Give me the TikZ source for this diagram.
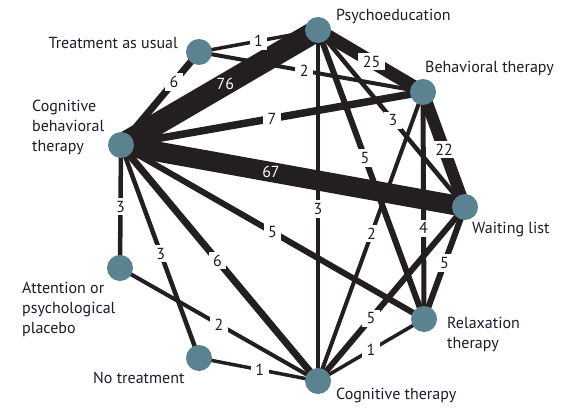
\documentclass[tikz,border=0pt]{standalone}
\usepackage{fontspec}
\setmainfont{PT Sans}
\usetikzlibrary{calc}
\definecolor{dotfill}{HTML}{5A8290}
\definecolor{edgecol}{HTML}{231F20}
\definecolor{txtcol}{HTML}{1A1E2C}
\pgfdeclarelayer{bg}
\pgfsetlayers{bg,main}
\begin{document}
\begin{tikzpicture}[x=1pt,y=-1pt,
  dot/.style={circle,fill=dotfill,minimum size=26pt,inner sep=0pt},
  edge/.style={draw=edgecol,line cap=butt},
  lbl/.style={fill=white,text=txtcol,inner xsep=4.5pt,inner ysep=3pt,font=\fontsize{16}{18}\selectfont},
  lblw/.style={text=white,inner sep=1pt,font=\fontsize{16}{18}\selectfont},
  txt/.style={text=txtcol,align=left,inner sep=0pt,font=\fontsize{16}{20}\selectfont}
]
\useasboundingbox (0,0) rectangle (588,417);
% nodes
\node[dot] (P) at (318,30) {};
\node[dot] (T) at (199,52) {};
\node[dot] (B) at (423,92) {};
\node[dot] (C) at (121,145) {};
\node[dot] (W) at (465,207) {};
\node[dot] (A) at (120,268) {};
\node[dot] (R) at (424,319) {};
\node[dot] (N) at (199,358) {};
\node[dot] (G) at (318,381) {};
% texts
\node[txt,anchor=west] (tP) at (336,16) {Psychoeducation};
\node[txt,anchor=east] (tT) at (178,43) {Treatment as usual};
\node[txt,anchor=west] (tB) at (425,68) {Behavioral therapy};
\node[txt,anchor=west] (tC) at (32,127) {Cognitive\\behavioral\\therapy};
\node[txt,anchor=west] (tW) at (472,230) {Waiting list};
\node[txt,anchor=west] (tA) at (22,309) {Attention or\\psychological\\placebo};
\node[txt,anchor=west] (tN) at (93,378) {No treatment};
\node[txt,anchor=west] (tR) at (447,334) {Relaxation\\therapy};
\node[txt,anchor=west] (tG) at (336,395) {Cognitive therapy};
% edges
\begin{pgfonlayer}{bg}
\fill[white] (0,0) rectangle (588,417);
\draw[edge,line width=3.5pt] (T.center) -- (P.center);
\draw[edge,line width=4pt] (T.center) -- (B.center);
\draw[edge,line width=7pt] (T.center) -- (C.center);
\draw[edge,line width=22pt] (C.center) -- (P.center);
\draw[edge,line width=7.5pt] (C.center) -- (B.center);
\draw[edge,line width=20pt] (C.center) -- (W.center);
\draw[edge,line width=6pt] (C.center) -- (R.center);
\draw[edge,line width=7pt] (C.center) -- (G.center);
\draw[edge,line width=4.5pt] (C.center) -- (N.center);
\draw[edge,line width=4.5pt] (C.center) -- (A.center);
\draw[edge,line width=4pt] (A.center) -- (G.center);
\draw[edge,line width=3.5pt] (N.center) -- (G.center);
\draw[edge,line width=13pt] (P.center) -- (B.center);
\draw[edge,line width=4.5pt] (P.center) -- (G.center);
\draw[edge,line width=4.5pt] (P.center) -- (W.center);
\draw[edge,line width=6pt] (P.center) -- (R.center);
\draw[edge,line width=12pt] (B.center) -- (W.center);
\draw[edge,line width=5pt] (B.center) -- (R.center);
\draw[edge,line width=4pt] (B.center) -- (G.center);
\draw[edge,line width=6pt] (W.center) -- (R.center);
\draw[edge,line width=6pt] (W.center) -- (G.center);
\draw[edge,line width=3.5pt] (R.center) -- (G.center);
\end{pgfonlayer}
% labels
\path (T.center) -- node[lbl,pos=0.5] (l1) {1} (P.center);
\path (T.center) -- node[lbl,pos=0.47] (l2) {2} (B.center);
\path (T.center) -- node[lbl,pos=0.32] (l3) {6} (C.center);
\path (C.center) -- node[lblw,pos=0.53] (l4) {76} (P.center);
\path (C.center) -- node[lbl,pos=0.5] (l5) {7} (B.center);
\path (C.center) -- node[lblw,pos=0.436] (l6) {67} (W.center);
\path (C.center) -- node[lbl,pos=0.5] (l7) {5} (R.center);
\path (C.center) -- node[lbl,pos=0.49] (l8) {6} (G.center);
\path (C.center) -- node[lbl,pos=0.51] (l9) {3} (N.center);
\path (C.center) -- node[lbl,pos=0.5] (l10) {3} (A.center);
\path (A.center) -- node[lbl,pos=0.5] (l11) {2} (G.center);
\path (N.center) -- node[lbl,pos=0.51] (l12) {1} (G.center);
\path (P.center) -- node[lbl,pos=0.51] (l13) {25} (B.center);
\path (P.center) -- node[lbl,pos=0.51] (l14) {3} (G.center);
\path (P.center) -- node[lbl,pos=0.51] (l15) {3} (W.center);
\path (P.center) -- node[lbl,pos=0.443] (l16) {5} (R.center);
\path (B.center) -- node[lbl,pos=0.5] (l17) {22} (W.center);
\path (B.center) -- node[lbl,pos=0.6] (l18) {4} (R.center);
\path (B.center) -- node[lbl,pos=0.49] (l19) {2} (G.center);
\path (W.center) -- node[lbl,pos=0.5] (l20) {5} (R.center);
\path (W.center) -- node[lbl,pos=0.64] (l21) {5} (G.center);
\path (R.center) -- node[lbl,pos=0.5] (l22) {1} (G.center);
\end{tikzpicture}
\end{document}
